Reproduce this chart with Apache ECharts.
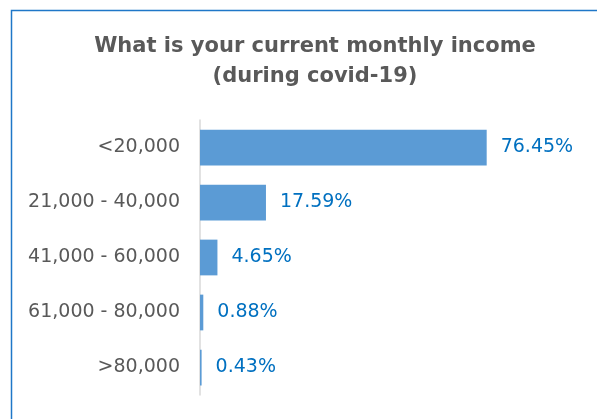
<!DOCTYPE html>
<html>
<head>
<meta charset="utf-8">
<script src="https://cdn.jsdelivr.net/npm/echarts@6/dist/echarts.min.js"></script>
<style>
  html, body { margin: 0; padding: 0; background: #fff; }
  #main { width: 597px; height: 419px; }
</style>
</head>
<body>
<div id="main"></div>
<script>
const categories = ['<20,000', '21,000 - 40,000', '41,000 - 60,000', '61,000 - 80,000', '>80,000'];
const shares = [76.45, 17.59, 4.65, 0.88, 0.43];

const chart = echarts.init(document.getElementById('main'), null, { renderer: 'canvas' });

chart.setOption({
  animation: false,
  backgroundColor: '#fff',
  graphic: [{
    type: 'rect',
    shape: { x: 11.5, y: 10.5, width: 700, height: 500 },
    style: { fill: 'none', stroke: '#1F77C8', lineWidth: 1.5 },
    silent: true
  }],
  title: {
    text: 'What is your current monthly income\n(during covid-19)',
    left: 310,
    top: 27,
    textAlign: 'center',
    textStyle: {
      fontFamily: 'DejaVu Sans',
      fontWeight: 'bold',
      fontSize: 21,
      lineHeight: 30,
      color: '#595959'
    }
  },
  grid: { left: 200, top: 120, width: 375, height: 275 },
  xAxis: {
    type: 'value',
    min: 0,
    max: 100,
    show: false
  },
  yAxis: {
    type: 'category',
    data: categories,
    inverse: true,
    axisLine: { lineStyle: { color: '#D9D9D9', width: 1.5 } },
    axisTick: { show: false },
    axisLabel: {
      margin: 20,
      fontFamily: 'DejaVu Sans',
      fontSize: 19,
      color: '#595959'
    }
  },
  series: [{
    type: 'bar',
    data: shares,
    barCategoryGap: '35%',
    itemStyle: { color: '#5B9BD5' },
    label: {
      show: true,
      position: 'right',
      distance: 14,
      formatter: p => p.value.toFixed(2) + '%',
      fontFamily: 'DejaVu Sans',
      fontSize: 19,
      color: '#0070C0'
    }
  }]
});
</script>
</body>
</html>
